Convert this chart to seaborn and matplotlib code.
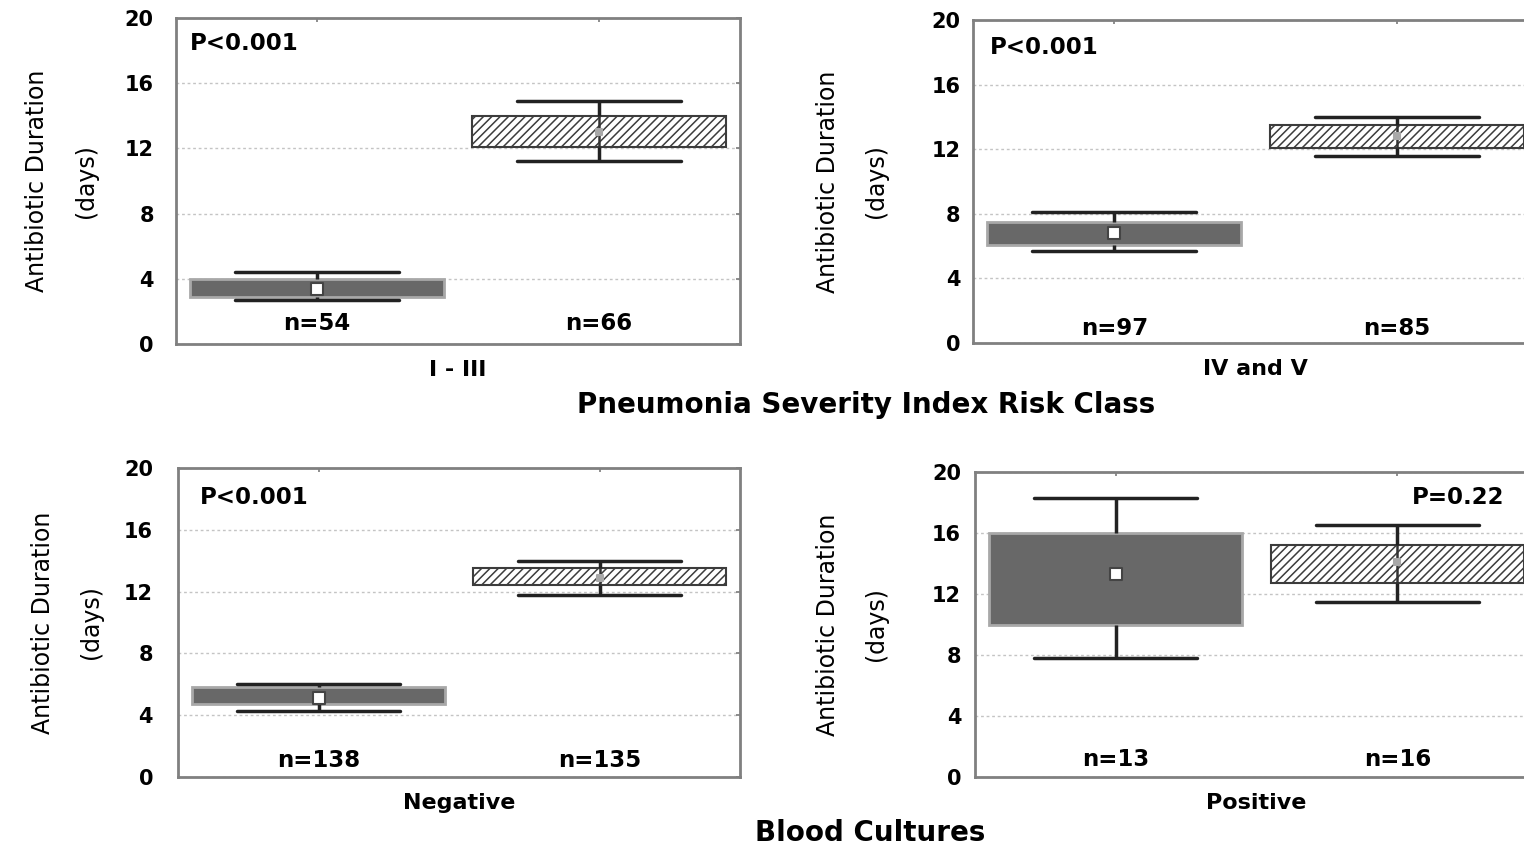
import numpy as np
import pandas as pd
import matplotlib.pyplot as plt
import matplotlib.transforms as mtransforms
import seaborn as sns

# values, per panel: [filled box, hatched box]
groups = ["Group 1", "Group 2"]
panel_names = ["I - III", "IV and V", "Negative", "Positive"]
whisker_low = [[2.7, 11.2], [5.7, 11.6], [4.3, 11.8], [7.8, 11.5]]
box_low = [[2.9, 12.1], [6.1, 12.1], [4.7, 12.4], [10.0, 12.7]]
centre = [[3.4, 13.0], [6.8, 12.8], [5.1, 12.9], [13.3, 14.1]]
box_high = [[4.0, 14.0], [7.5, 13.5], [5.8, 13.5], [16.0, 15.2]]
whisker_high = [[4.4, 14.9], [8.1, 14.0], [6.0, 14.0], [18.3, 16.5]]
n_counts = [[54, 66], [97, 85], [138, 135], [13, 16]]
p_labels = ["P<0.001", "P<0.001", "P<0.001", "P=0.22"]

# five values per box -> boxplot with whis=(0, 100) reproduces the summary exactly
rows = []
for i, name in enumerate(panel_names):
    for j, g in enumerate(groups):
        for v in (whisker_low[i][j], box_low[i][j], centre[i][j], box_high[i][j], whisker_high[i][j]):
            rows.append({"panel": name, "group": g, "days": v})
df = pd.DataFrame(rows)

sns.set_theme(style="white")
plt.rcParams['font.family'] = ['DejaVu Sans']
plt.rcParams['hatch.linewidth'] = 1.1
plt.rcParams['text.color'] = 'black'
plt.rcParams['axes.labelcolor'] = 'black'
plt.rcParams['ytick.labelcolor'] = 'black'

fig = plt.figure(figsize=(15.24, 8.48), dpi=100)
rects = [[0.1155, 0.5943, 0.3701, 0.3845],
         [0.6385, 0.5955, 0.3707, 0.3809],
         [0.1168, 0.0837, 0.3688, 0.3644],
         [0.6398, 0.0837, 0.3694, 0.3597]]
tick_pads = [16, 9, 18, 10]
label_x = [-0.138, -0.15, -0.133, -0.154]
p_pos = [(0.025, 0.923, 'left'), (0.03, 0.916, 'left'), (0.039, 0.906, 'left'), (0.94, 0.918, 'right')]
n_y = [0.064, 0.045, 0.055, 0.056]
marker_face = ['white', '#a8a8a8']
marker_edge = ['#444444', '#a8a8a8']
marker_size = [8, 5]

for i, rect in enumerate(rects):
    ax = fig.add_axes(rect)
    sub = df[df["panel"] == panel_names[i]]
    sns.boxplot(data=sub, x="group", y="days", order=groups, whis=(0, 100), width=0.9,
                showfliers=False, capwidths=0.58, ax=ax,
                medianprops=dict(visible=False),
                whiskerprops=dict(color='#222222', linewidth=2.5),
                capprops=dict(color='#222222', linewidth=2.5))
    ax.patches[0].set_facecolor('#686868')
    ax.patches[0].set_edgecolor('#a8a8a8')
    ax.patches[0].set_linewidth(2)
    ax.patches[1].set_facecolor('white')
    ax.patches[1].set_edgecolor('#3c3c3c')
    ax.patches[1].set_hatch('////')
    ax.patches[1].set_linewidth(1.5)
    # the hatched box also shows the whisker running through it
    ax.vlines(1, box_low[i][1], box_high[i][1], color='#333333', linewidth=1.8, zorder=3)

    for j, g in enumerate(groups):
        sns.stripplot(x=[g], y=[centre[i][j]], order=groups, color=marker_face[j],
                      jitter=False, marker='s', size=marker_size[j], linewidth=1.5,
                      edgecolor=marker_edge[j], ax=ax, zorder=5)

    ax.set_xlim(-0.5, 1.5)
    ax.set_ylim(0, 20)
    ax.set_yticks([0, 4, 8, 12, 16, 20])
    ax.set_xticks([0, 1])
    ax.set_xticklabels(['', ''])
    ax.yaxis.grid(True, linestyle=(0, (2, 2)), color='#c4c4c4', linewidth=1)
    ax.set_axisbelow(True)
    ax.tick_params(axis='both', direction='in', length=3, top=True, right=True,
                   color='#808080', labelsize=15, labelcolor='black')
    ax.tick_params(axis='y', pad=tick_pads[i])
    for lbl in ax.get_yticklabels():
        lbl.set_fontweight('bold')
    for s in ax.spines.values():
        s.set_color('#808080')
        s.set_linewidth(2)

    ax.set_ylabel("Antibiotic Duration\n(days)", fontsize=17, linespacing=2.3)
    ax.yaxis.set_label_coords(label_x[i], 0.5)
    ax.set_xlabel(panel_names[i], fontsize=16, fontweight='bold', labelpad=8)

    px, py, pha = p_pos[i]
    ax.text(px, py, p_labels[i], transform=ax.transAxes, ha=pha, va='center',
            fontsize=16.5, fontweight='bold')
    trans = mtransforms.blended_transform_factory(ax.transData, ax.transAxes)
    for j in range(2):
        ax.text(j, n_y[i], f"n={n_counts[i][j]}", transform=trans, ha='center', va='center',
                fontsize=16.5, fontweight='bold')

fig.text(0.568, 1 - 405 / 848, "Pneumonia Severity Index Risk Class", ha='center', va='center',
         fontsize=20, fontweight='bold')
fig.text(0.571, 1 - 833 / 848, "Blood Cultures", ha='center', va='center',
         fontsize=20, fontweight='bold')

fig.savefig("out.png", dpi=100)
